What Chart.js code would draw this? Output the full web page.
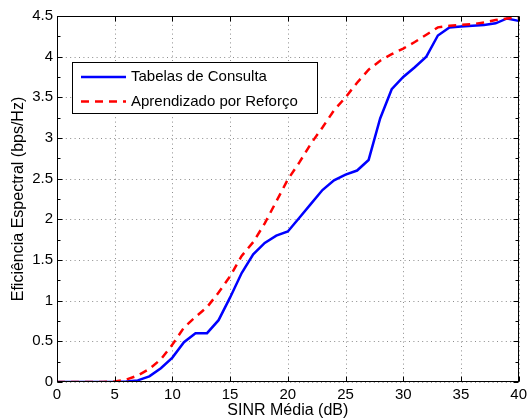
<!DOCTYPE html>
<html>
<head>
<meta charset="utf-8">
<script src="https://cdn.jsdelivr.net/npm/chart.js@4/dist/chart.umd.min.js"></script>
<style>
html,body{margin:0;padding:0;background:#fff;}
#wrap{width:531px;height:418px;position:relative;}
</style>
</head>
<body>
<div id="wrap"><canvas id="c" width="531" height="418"></canvas></div>
<script>
const snr = [0,1,2,3,4,5,6,7,8,9,10,11,12,13,14,15,16,17,18,19,20,21,22,23,24,25,26,27,28,29,30,31,32,33,34,35,36,37,38,39,40];
const tabelas = [0,0,0,0,0,0,0.005,0.02,0.07,0.17,0.3,0.49,0.6,0.6,0.76,1.04,1.34,1.57,1.71,1.8,1.85,2.02,2.19,2.36,2.48,2.55,2.6,2.73,3.24,3.6,3.75,3.87,4.0,4.26,4.36,4.37,4.38,4.39,4.41,4.47,4.44];
const aprendizado = [0,0,0,0,0,0.005,0.03,0.08,0.16,0.28,0.46,0.67,0.8,0.92,1.1,1.3,1.55,1.72,1.95,2.22,2.49,2.7,2.93,3.13,3.34,3.5,3.68,3.84,3.95,4.03,4.1,4.18,4.27,4.36,4.38,4.39,4.40,4.42,4.45,4.47,4.48];
const seriesNames = ["Tabelas de Consulta", "Aprendizado por Reforço"];
const xTicks = [0,5,10,15,20,25,30,35,40];
const yTicks = [0,0.5,1,1.5,2,2.5,3,3.5,4,4.5];
const yMinor = [0.25,0.75,1.25,1.75,2.25,2.75,3.25,3.75,4.25];

const FONT = '"Liberation Sans", Arial, Helvetica, sans-serif';

const framePlugin = {
  id: 'frame',
  beforeDatasetsDraw(chart) {
    const {ctx, chartArea: a, scales: {x, y}} = chart;
    ctx.save();
    ctx.strokeStyle = '#8c8c8c';
    ctx.lineWidth = 1;
    ctx.setLineDash([1, 3.4]);
    xTicks.forEach(v => {
      const px = Math.round(x.getPixelForValue(v)) + 0.5;
      ctx.beginPath(); ctx.moveTo(px, a.top); ctx.lineTo(px, a.bottom); ctx.stroke();
    });
    yTicks.forEach(v => {
      const py = Math.round(y.getPixelForValue(v)) + 0.5;
      ctx.beginPath(); ctx.moveTo(a.left, py); ctx.lineTo(a.right, py); ctx.stroke();
    });
    ctx.restore();
  },
  afterDatasetsDraw(chart) {
    const {ctx, chartArea: a, scales: {x, y}} = chart;
    ctx.save();
    ctx.strokeStyle = '#000';
    ctx.lineWidth = 1;
    ctx.setLineDash([]);
    const L = Math.round(a.left) + 0.5, R = Math.round(a.right) - 0.5;
    const T = Math.round(a.top) + 0.5, B = Math.round(a.bottom) - 0.5;
    ctx.strokeRect(L, T, R - L, B - T);
    ctx.beginPath();
    xTicks.forEach(v => {
      const px = Math.round(x.getPixelForValue(v)) + 0.5;
      ctx.moveTo(px, B); ctx.lineTo(px, B - 5);
      ctx.moveTo(px, T); ctx.lineTo(px, T + 5);
    });
    yTicks.forEach(v => {
      const py = Math.round(y.getPixelForValue(v)) + 0.5;
      ctx.moveTo(L, py); ctx.lineTo(L + 5, py);
      ctx.moveTo(R, py); ctx.lineTo(R - 5, py);
    });
    yMinor.forEach(v => {
      const py = Math.round(y.getPixelForValue(v)) + 0.5;
      ctx.moveTo(L, py); ctx.lineTo(L + 3, py);
      ctx.moveTo(R, py); ctx.lineTo(R - 3, py);
    });
    ctx.stroke();

    // legend
    const bx = 72.5, by = 62.5, bw = 245, bh = 51;
    ctx.fillStyle = '#fff';
    ctx.fillRect(bx, by, bw, bh);
    ctx.strokeRect(bx, by, bw, bh);
    const rows = [77, 101.5];
    chart.data.datasets.forEach((ds) => {
      const idx = seriesNames.indexOf(ds.label);
      const ry = rows[idx];
      ctx.save();
      ctx.strokeStyle = ds.borderColor;
      ctx.lineWidth = 2.5;
      ctx.setLineDash(ds.borderDash || []);
      ctx.beginPath(); ctx.moveTo(81, ry); ctx.lineTo(126, ry); ctx.stroke();
      ctx.restore();
      ctx.fillStyle = '#000';
      ctx.font = '15px ' + FONT;
      ctx.textBaseline = 'middle';
      ctx.textAlign = 'left';
      ctx.fillText(ds.label, 131, ry);
    });
    ctx.restore();
  }
};

const ctx = document.getElementById('c').getContext('2d');
new Chart(ctx, {
  type: 'line',
  data: {
    datasets: [
      {
        label: seriesNames[0],
        data: snr.map((s, i) => ({x: s, y: tabelas[i]})),
        borderColor: '#0000ff',
        borderWidth: 2.5,
        pointRadius: 0,
        tension: 0,
        fill: false,
        order: 1
      },
      {
        label: seriesNames[1],
        data: snr.map((s, i) => ({x: s, y: aprendizado[i]})),
        borderColor: '#ff0000',
        borderWidth: 2.5,
        borderDash: [8, 6],
        pointRadius: 0,
        tension: 0,
        fill: false,
        order: 0
      }
    ]
  },
  options: {
    responsive: false,
    animation: false,
    devicePixelRatio: 1,
    layout: {padding: {left: 0, right: 7, top: 16, bottom: 0}},
    plugins: {legend: {display: false}, tooltip: {enabled: false}},
    scales: {
      x: {
        type: 'linear', min: 0, max: 40,
        afterBuildTicks: s => { s.ticks = xTicks.map(v => ({value: v})); },
        afterFit: s => { s.height = 36; },
        grid: {display: false, drawTicks: false},
        border: {display: false},
        ticks: {color: '#000', font: {family: FONT, size: 15}, padding: 4, maxRotation: 0, autoSkip: false, callback: v => String(v)},
        title: {display: true, text: 'SINR Média (dB)', color: '#000', font: {family: FONT, size: 16}, padding: {top: 0, bottom: -2}}
      },
      y: {
        type: 'linear', min: 0, max: 4.5,
        afterBuildTicks: s => { s.ticks = yTicks.map(v => ({value: v})); },
        afterFit: s => { s.width = 57; },
        grid: {display: false, drawTicks: false},
        border: {display: false},
        ticks: {color: '#000', font: {family: FONT, size: 15}, padding: 4, autoSkip: false, callback: v => String(v)},
        title: {display: true, text: 'Eficiência Espectral (bps/Hz)', color: '#000', font: {family: FONT, size: 16}, padding: {top: 9, bottom: 0}}
      }
    }
  },
  plugins: [framePlugin]
});
</script>
</body>
</html>
